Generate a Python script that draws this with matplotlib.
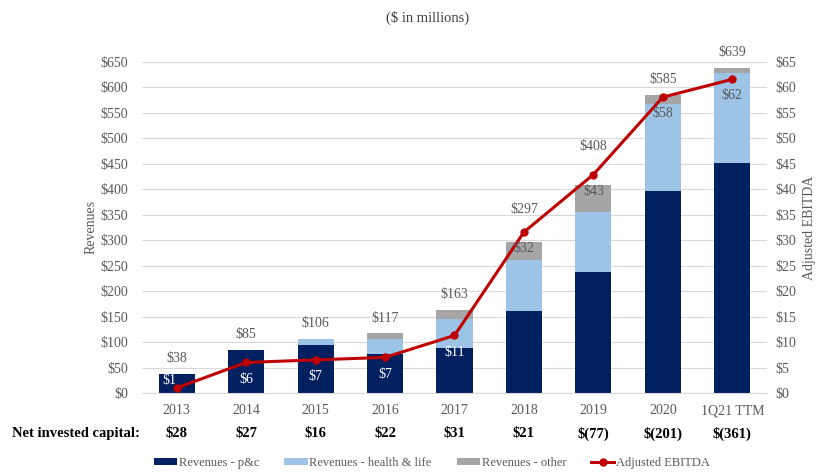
import matplotlib
matplotlib.use("Agg")
import matplotlib.pyplot as plt
from matplotlib.ticker import FuncFormatter

# data
years = ["2013", "2014", "2015", "2016", "2017", "2018", "2019", "2020", "1Q21 TTM"]
rev_pc = [38, 85, 95, 77, 89, 161, 238, 397, 451]
rev_hl = [0, 0, 11, 30, 57, 101, 117, 171, 177]
rev_other = [0, 0, 0, 10, 17, 35, 53, 17, 11]
rev_total = [38, 85, 106, 117, 163, 297, 408, 585, 639]
ebitda = [1.0, 6.0, 6.5, 7.0, 11.3, 31.6, 42.9, 58.1, 61.6]
ebitda_labels = ["$1", "$6", "$7", "$7", "$11", "$32", "$43", "$58", "$62"]
nic_labels = ["$28", "$27", "$16", "$22", "$31", "$21", "$(77)", "$(201)", "$(361)"]

plt.rcParams["font.family"] = ["Liberation Serif", "DejaVu Serif"]

c_pc = "#002060"
c_hl = "#9DC3E6"
c_other = "#A5A5A5"
c_line = "#C00000"
c_text = "#595959"

fig = plt.figure(figsize=(8.2, 4.72), dpi=100)
ax = fig.add_axes([142 / 820, 1 - 393 / 472, 625 / 820, 331 / 472])
ax2 = ax.twinx()

x = list(range(len(years)))
w = 0.52
bottom_hl = rev_pc
bottom_other = [a + b for a, b in zip(rev_pc, rev_hl)]
ax.bar(x, rev_pc, w, color=c_pc, label="Revenues - p&c", zorder=2)
ax.bar(x, rev_hl, w, bottom=bottom_hl, color=c_hl, label="Revenues - health & life", zorder=2)
ax.bar(x, rev_other, w, bottom=bottom_other, color=c_other, label="Revenues - other", zorder=2)

# total labels; the 2018 and 2019 ones are lifted clear of the line
for i, t in enumerate(rev_total):
    dy = 11
    if i == 5:
        dy = 23
    if i == 6:
        dy = 28
    ax.annotate("$%d" % t, (i, t), xytext=(0, dy), textcoords="offset points",
                ha="center", va="center", fontsize=10, color=c_text)

ax2.plot(x, ebitda, color=c_line, lw=2.2, marker="o", ms=5, label="Adjusted EBITDA", zorder=3)
for i, (v, lab) in enumerate(zip(ebitda, ebitda_labels)):
    col = "white" if i < 5 else c_text
    off = (-5, 5) if i == 0 else (0, -12)
    ax2.annotate(lab, (i, v), xytext=off, textcoords="offset points",
                 ha="center", va="center", fontsize=10, color=col)

ax.set_xlim(-0.5, len(years) - 0.5)
ax.set_ylim(0, 650)
ax2.set_ylim(0, 65)
ax.set_yticks(range(0, 651, 50))
ax2.set_yticks(range(0, 66, 5))
ax.yaxis.set_major_formatter(FuncFormatter(lambda v, p: "$%d" % v))
ax2.yaxis.set_major_formatter(FuncFormatter(lambda v, p: "$%d" % v))
ax.set_xticks(x)
ax.set_xticklabels(years)

ax.grid(axis="y", color="#D9D9D9", lw=0.8, zorder=0)
ax.set_axisbelow(True)
for a in (ax, ax2):
    for s in a.spines.values():
        s.set_visible(False)
    a.tick_params(length=0, labelsize=10, colors=c_text)
ax.tick_params(axis="x", pad=8)
ax.tick_params(axis="y", pad=10)
ax2.tick_params(axis="y", pad=6)
ax.spines["bottom"].set_visible(True)
ax.spines["bottom"].set_color("#D9D9D9")

ax.set_ylabel("Revenues", fontsize=10, color=c_text, labelpad=2)
ax2.set_ylabel("Adjusted EBITDA", fontsize=10, color=c_text, labelpad=5)

fig.text(428 / 820, 1 - 18 / 472, "($ in millions)", ha="center", va="center",
         fontsize=10.5, color="#404040")

# net invested capital row
y_nic = 1 - 434 / 472
fig.text(12 / 820, y_nic, "Net invested capital:", ha="left", va="center",
         fontsize=10.5, fontweight="bold", color="black")
for i, lab in enumerate(nic_labels):
    xf = fig.transFigure.inverted().transform(ax.transData.transform((i, 0)))[0]
    fig.text(xf, y_nic, lab, ha="center", va="center", fontsize=10.5,
             fontweight="bold", color="black")

h1, l1 = ax.get_legend_handles_labels()
h2, l2 = ax2.get_legend_handles_labels()
leg = fig.legend(h1 + h2, l1 + l2, loc="center", bbox_to_anchor=(432 / 820, 1 - 463 / 472),
                 ncol=4, frameon=False, fontsize=9, handlelength=1.85, handleheight=0.5,
                 columnspacing=2.0, handletextpad=0.15)
for t in leg.get_texts():
    t.set_color(c_text)

fig.savefig("out.png", dpi=100)
